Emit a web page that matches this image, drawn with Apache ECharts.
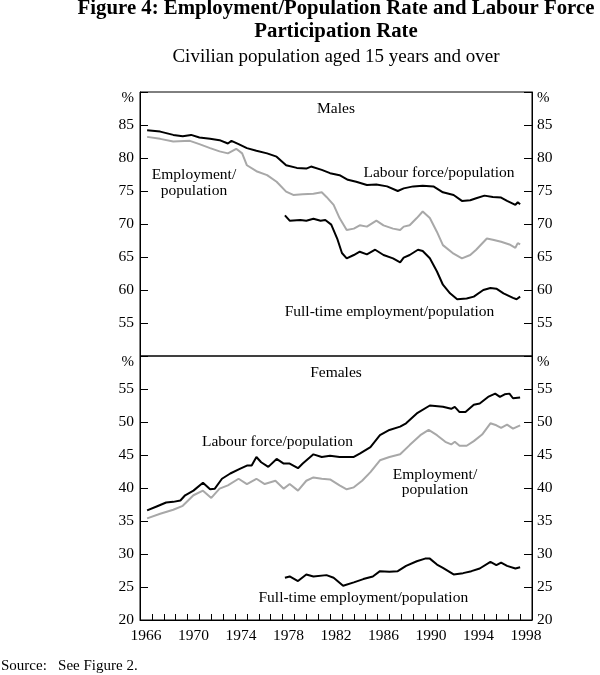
<!DOCTYPE html>
<html>
<head>
<meta charset="utf-8">
<script src="https://cdn.jsdelivr.net/npm/echarts@6/dist/echarts.min.js"></script>
<style>
html,body{margin:0;padding:0;background:#fff;}
#chart{width:600px;height:675px;}
</style>
</head>
<body>
<div id="chart"></div>
<script>
// ---------------- DATA ----------------
var yearLabels = [];
for (var yl = 1966; yl <= 1998; yl++) yearLabels.push(String(yl));

var maleTicks = [55, 60, 65, 70, 75, 80, 85];
var femaleTicks = [20, 25, 30, 35, 40, 45, 50, 55];

// Males - labour force / population
var maleLFYears = [1966.6,1967.7,1968.8,1969.6,1970.3,1971.0,1971.9,1972.7,1973.4,1973.7,1974.3,1975.0,1975.8,1976.7,1977.5,1978.3,1979.2,1980.0,1980.4,1981.3,1982.0,1982.8,1983.5,1984.2,1985.1,1985.9,1986.8,1987.7,1988.2,1989.0,1989.8,1990.7,1991.5,1992.4,1993.1,1993.8,1994.3,1995.0,1995.7,1996.4,1996.9,1997.6,1997.8,1998.0];
var maleLFValues = [84.2,84.0,83.5,83.3,83.5,83.1,82.9,82.7,82.2,82.6,82.1,81.5,81.1,80.7,80.2,78.9,78.5,78.4,78.7,78.2,77.7,77.4,76.7,76.4,75.9,76.0,75.7,75.0,75.4,75.7,75.8,75.7,74.8,74.4,73.5,73.6,73.9,74.3,74.1,74.0,73.5,72.9,73.3,73.0];

// Males - employment / population
var maleEmpYears = [1966.6,1967.7,1968.8,1970.2,1971.0,1971.9,1972.7,1973.4,1974.1,1974.6,1975.0,1975.8,1976.7,1977.5,1978.3,1978.9,1979.7,1980.6,1981.3,1981.7,1982.3,1982.8,1983.4,1984.0,1984.5,1985.1,1985.9,1986.5,1987.3,1987.9,1988.2,1988.7,1989.3,1989.8,1990.4,1991.0,1991.5,1992.4,1993.1,1993.8,1994.3,1995.2,1995.7,1996.4,1997.1,1997.6,1997.8,1998.0];
var maleEmpValues = [83.2,82.9,82.5,82.6,82.1,81.5,81.0,80.7,81.4,80.7,78.9,78.0,77.4,76.4,74.9,74.4,74.5,74.6,74.8,74.1,72.9,70.9,69.1,69.3,69.8,69.6,70.5,69.8,69.3,69.1,69.6,69.8,70.9,71.9,70.9,68.8,66.8,65.5,64.8,65.3,66.1,67.8,67.6,67.3,66.9,66.4,67.1,66.9];

// Males - full-time employment / population
var maleFTYears = [1978.2,1978.6,1979.5,1980.0,1980.6,1981.2,1981.6,1982.1,1982.6,1983.0,1983.4,1984.0,1984.5,1985.1,1985.8,1986.5,1987.3,1987.9,1988.2,1988.7,1989.4,1989.8,1990.4,1991.0,1991.5,1992.1,1992.7,1993.5,1994.1,1994.9,1995.5,1996.0,1996.6,1997.4,1997.7,1998.0];
var maleFTValues = [71.3,70.5,70.6,70.5,70.8,70.5,70.6,69.9,67.8,65.6,64.8,65.3,65.8,65.4,66.1,65.3,64.8,64.2,64.9,65.3,66.1,65.9,64.8,62.8,60.8,59.5,58.6,58.7,59.0,60.0,60.3,60.2,59.5,58.8,58.6,59.0];

// Females - labour force / population
var femLFYears = [1966.6,1967.4,1968.2,1968.8,1969.4,1969.8,1970.5,1971.3,1971.9,1972.3,1972.9,1973.6,1974.4,1975.0,1975.4,1975.8,1976.2,1976.8,1977.5,1978.1,1978.6,1979.3,1979.7,1980.6,1981.3,1982.0,1982.8,1984.0,1984.5,1985.4,1986.2,1987.0,1987.9,1988.4,1989.3,1990.4,1991.5,1992.2,1992.5,1992.9,1993.4,1994.1,1994.6,1995.3,1995.9,1996.3,1996.7,1997.1,1997.4,1998.0];
var femLFValues = [36.6,37.2,37.8,37.9,38.1,38.9,39.6,40.8,39.8,39.9,41.4,42.2,42.9,43.4,43.4,44.7,43.9,43.2,44.4,43.7,43.7,43.0,43.7,45.1,44.7,44.9,44.7,44.7,45.2,46.2,48.0,48.8,49.3,49.8,51.3,52.5,52.3,52.0,52.3,51.5,51.5,52.6,52.8,53.8,54.3,53.8,54.2,54.3,53.6,53.7];

// Females - employment / population
var femEmpYears = [1966.6,1967.7,1968.8,1969.6,1970.5,1971.3,1972.0,1972.7,1973.4,1974.3,1975.0,1975.8,1976.5,1977.4,1978.1,1978.6,1979.3,1980.0,1980.6,1981.3,1982.0,1982.8,1983.4,1984.0,1984.7,1985.4,1986.2,1987.0,1987.9,1988.7,1989.6,1990.3,1991.0,1991.7,1992.2,1992.5,1992.9,1993.5,1994.1,1994.8,1995.5,1996.0,1996.4,1996.9,1997.4,1998.0];
var femEmpValues = [35.4,36.1,36.7,37.3,38.9,39.6,38.5,39.9,40.4,41.4,40.6,41.4,40.6,41.1,39.9,40.6,39.6,41.1,41.6,41.4,41.3,40.4,39.8,40.1,41.1,42.4,44.2,44.7,45.1,46.5,48.0,48.8,48.0,47.0,46.6,47.0,46.4,46.4,47.1,48.1,49.8,49.5,49.1,49.6,49.0,49.5];

// Females - full-time employment / population
var femFTYears = [1978.2,1978.6,1979.3,1980.0,1980.6,1981.7,1982.3,1983.1,1984.0,1984.8,1985.6,1986.2,1987.0,1987.7,1988.4,1989.3,1990.0,1990.4,1991.0,1991.5,1992.4,1993.2,1993.9,1994.6,1995.5,1996.0,1996.4,1996.9,1997.6,1998.0];
var femFTValues = [26.4,26.6,25.9,26.9,26.6,26.8,26.4,25.2,25.7,26.2,26.6,27.4,27.3,27.4,28.2,28.9,29.3,29.3,28.4,27.9,26.9,27.1,27.4,27.8,28.8,28.3,28.7,28.2,27.8,28.0];

// ---------------- CHART ----------------
var FONT = '"Liberation Serif", "Times New Roman", serif';
var LBL = '15.5px ' + FONT;
function zip(xs, ys) { return xs.map(function (x, i) { return [x, ys[i]]; }); }

function yAxisDef(grid, pos, min, max, ticks) {
  return {
    type: 'value', gridIndex: grid, position: pos,
    min: min, max: max, interval: 5,
    splitLine: { show: false },
    axisLine: { show: true, lineStyle: { color: '#000', width: 1 } },
    axisTick: { show: true, inside: true, length: 8, lineStyle: { color: '#000' } },
    axisLabel: {
      show: true, margin: pos === 'left' ? 6 : 5,
      color: '#000', fontFamily: FONT, fontSize: 15.5,
      showMinLabel: true, showMaxLabel: true,
      formatter: function (v) {
        if (v === max) return '{p|%}';
        if (ticks.indexOf(v) >= 0) return String(v);
        return '';
      },
      rich: { p: { fontFamily: FONT, fontSize: 15, color: '#000', padding: [13, 0, 0, 0] } }
    }
  };
}

function line(name, xs, ys, xi, yi, color) {
  return {
    name: name, type: 'line', xAxisIndex: xi, yAxisIndex: yi,
    data: zip(xs, ys), showSymbol: false, symbol: 'none', smooth: false,
    lineStyle: { color: color, width: 2 }, itemStyle: { color: color },
    silent: true, animation: false
  };
}

var BLACK = '#000', GREY = '#a8a8a8';

var option = {
  backgroundColor: '#fff',
  animation: false,
  title: [
    {
      text: 'Figure 4: Employment/Population Rate and Labour Force\nParticipation Rate',
      left: 336, top: -3, textAlign: 'center', padding: 0,
      textStyle: { fontFamily: FONT, fontSize: 20.8, fontWeight: 'bold', color: '#000', lineHeight: 23 }
    },
    {
      text: 'Civilian population aged 15 years and over',
      left: 336, top: 47, textAlign: 'center', padding: 0,
      textStyle: { fontFamily: FONT, fontSize: 19, fontWeight: 'normal', color: '#000', lineHeight: 20 }
    }
  ],
  grid: [
    { left: 140, right: 68, top: 92, height: 264, show: true, borderColor: '#000', borderWidth: 1, backgroundColor: 'transparent' },
    { left: 140, right: 68, top: 356, height: 264, show: true, borderColor: '#000', borderWidth: 1, backgroundColor: 'transparent' }
  ],
  xAxis: [
    { type: 'value', gridIndex: 0, min: 1966, max: 1999, show: false },
    { type: 'value', gridIndex: 1, min: 1966, max: 1999, show: false },
    {
      type: 'category', gridIndex: 1, data: yearLabels, boundaryGap: true, position: 'bottom',
      axisLine: { show: true, lineStyle: { color: '#000', width: 1 } },
      axisTick: { show: true, inside: true, length: 6, interval: 0, alignWithLabel: false, lineStyle: { color: '#000' } },
      axisLabel: { interval: 3, margin: 8, color: '#000', fontFamily: FONT, fontSize: 15.5 },
      splitLine: { show: false }
    }
  ],
  yAxis: [
    yAxisDef(0, 'left', 50, 90, maleTicks),
    yAxisDef(0, 'right', 50, 90, maleTicks),
    yAxisDef(1, 'left', 20, 60, femaleTicks),
    yAxisDef(1, 'right', 20, 60, femaleTicks)
  ],
  series: [
    line('Male employment/population', maleEmpYears, maleEmpValues, 0, 0, GREY),
    line('Male labour force/population', maleLFYears, maleLFValues, 0, 0, BLACK),
    line('Male full-time employment/population', maleFTYears, maleFTValues, 0, 0, BLACK),
    line('Female employment/population', femEmpYears, femEmpValues, 1, 2, GREY),
    line('Female labour force/population', femLFYears, femLFValues, 1, 2, BLACK),
    line('Female full-time employment/population', femFTYears, femFTValues, 1, 2, BLACK)
  ],
  graphic: [
    { type: 'text', x: 336, y: 109, style: { text: 'Males', font: LBL, fill: '#000', textAlign: 'center', textVerticalAlign: 'middle' } },
    { type: 'text', x: 194, y: 183, style: { text: 'Employment/\npopulation', font: LBL, lineHeight: 15.5, fill: '#000', textAlign: 'center', textVerticalAlign: 'middle' } },
    { type: 'text', x: 439, y: 173, style: { text: 'Labour force/population', font: LBL, fill: '#000', textAlign: 'center', textVerticalAlign: 'middle' } },
    { type: 'text', x: 389.5, y: 312, style: { text: 'Full-time employment/population', font: LBL, fill: '#000', textAlign: 'center', textVerticalAlign: 'middle' } },
    { type: 'text', x: 336, y: 373, style: { text: 'Females', font: LBL, fill: '#000', textAlign: 'center', textVerticalAlign: 'middle' } },
    { type: 'text', x: 277.5, y: 442, style: { text: 'Labour force/population', font: LBL, fill: '#000', textAlign: 'center', textVerticalAlign: 'middle' } },
    { type: 'text', x: 435, y: 482.5, style: { text: 'Employment/\npopulation', font: LBL, lineHeight: 15.5, fill: '#000', textAlign: 'center', textVerticalAlign: 'middle' } },
    { type: 'text', x: 363.3, y: 598, style: { text: 'Full-time employment/population', font: LBL, fill: '#000', textAlign: 'center', textVerticalAlign: 'middle' } },
    { type: 'text', x: 1, y: 666, style: { text: 'Source:   See Figure 2.', font: '15px ' + FONT, fill: '#000', textAlign: 'left', textVerticalAlign: 'middle' } }
  ]
};

var chart = echarts.init(document.getElementById('chart'), null, { renderer: 'canvas', width: 600, height: 675 });
chart.setOption(option);
</script>
</body>
</html>
